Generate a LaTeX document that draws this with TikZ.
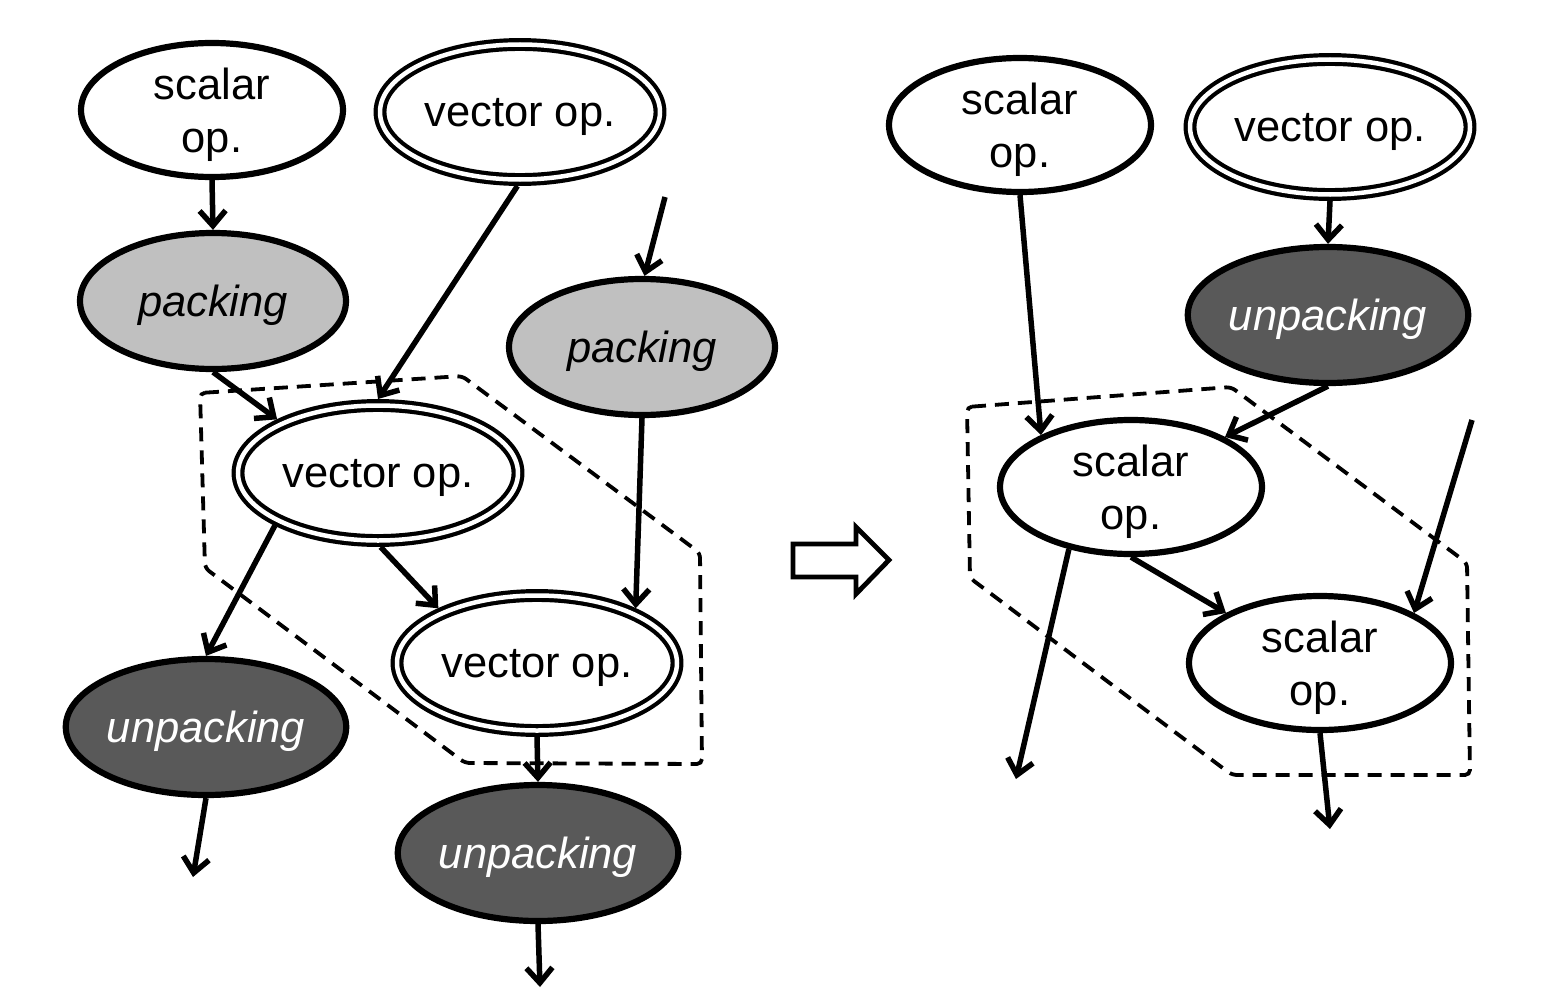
\documentclass[tikz,border=0pt]{standalone}
\usepackage{fontspec}
\setmainfont{Liberation Sans}
\usetikzlibrary{shapes.geometric,arrows.meta}
\definecolor{packgray}{HTML}{C0C0C0}
\definecolor{unpackgray}{HTML}{595959}
\begin{document}
\begin{tikzpicture}[x=1pt,y=-1pt,
  base/.style={ellipse, inner sep=0pt, align=center, text depth=0pt, font=\fontsize{43.5}{53}\selectfont},
  sop/.style={base, draw, line width=6.2pt, fill=white, minimum width=262pt, minimum height=134pt},
  vop/.style={base, draw, line width=4.2pt, double=white, double distance=4.5pt, fill=white, outer sep=6.5pt, minimum width=280pt, minimum height=135pt},
  pack/.style={base, draw, line width=6.2pt, fill=packgray, minimum width=266pt, minimum height=136pt, font=\fontsize{43.5}{53}\selectfont\itshape},
  unpack/.style={pack, fill=unpackgray, text=white, minimum width=280pt},
  conn/.style={line width=5.5pt, -{Straight Barb[length=15pt,width=26pt]}},
  grp/.style={line width=3.8pt, dash pattern=on 14pt off 9pt, rounded corners=5pt},
  bigarrow/.style={draw, line width=4.8pt, fill=white, line join=miter}
]
\useasboundingbox (0,0) rectangle (1550,998);

% left side
\node[sop] (S1) at (212,110) {scalar\\op.};
\node[vop] (V1) at (520,112) {vector op.};
\node[pack] (P1) at (213,301) {packing};
\node[pack] (P2) at (642,347) {packing};
\node[vop] (V2) at (378,473) {vector op.};
\node[vop] (V3) at (537,663) {vector op.};
\node[unpack] (U1) at (206,727) {unpacking};
\node[unpack] (U2) at (538,853) {unpacking};

\coordinate (f1) at (665,197);
\coordinate (e1) at (193,877);
\coordinate (e2) at (540,987);

\draw[grp] (200,393) -- (462,376) -- (700,553) -- (702,764) -- (465,763) -- (205,568) -- cycle;

\draw[conn] (S1.south) -- (P1.north);
\draw[conn] (V1.268) -- (V2.north);
\draw[conn] (P1.270) -- (V2.152);
\draw[conn] (f1) -- (P2.88);
\draw[conn] (P2.south) -- (V3.29);
\draw[conn] (V2.207) -- (U1.north);
\draw[conn] (V2.272) -- (V3.151);
\draw[conn] (V3.south) -- (U2.north);
\draw[conn] (U1.south) -- (e1);
\draw[conn] (U2.south) -- (e2);

% transformation arrow
\draw[bigarrow] (793,544) -- (856,544) -- (856,527) -- (889,560) -- (856,594) -- (856,577) -- (793,577) -- cycle;

% right side
\node[sop] (S2) at (1020,125) {scalar\\op.};
\node[vop] (V4) at (1330,127) {vector op.};
\node[unpack] (U3) at (1328,315) {unpacking};
\node[sop] (S3) at (1131,487) {scalar\\op.};
\node[sop] (S4) at (1320,663) {scalar\\op.};

\coordinate (f2) at (1472,420);
\coordinate (e3) at (1016,779);
\coordinate (e4) at (1330,829);

\draw[grp] (967,407) -- (1231,387) -- (1467,563) -- (1470,775) -- (1232,775) -- (970,578) -- cycle;

\draw[conn] (S2.south) -- (S3.150);
\draw[conn] (V4.south) -- (U3.north);
\draw[conn] (U3.south) -- (S3.28);
\draw[conn] (f2) -- (S4.28);
\draw[conn] (S3.225) -- (e3);
\draw[conn] (S3.south) -- (S4.152);
\draw[conn] (S4.south) -- (e4);
\end{tikzpicture}
\end{document}
